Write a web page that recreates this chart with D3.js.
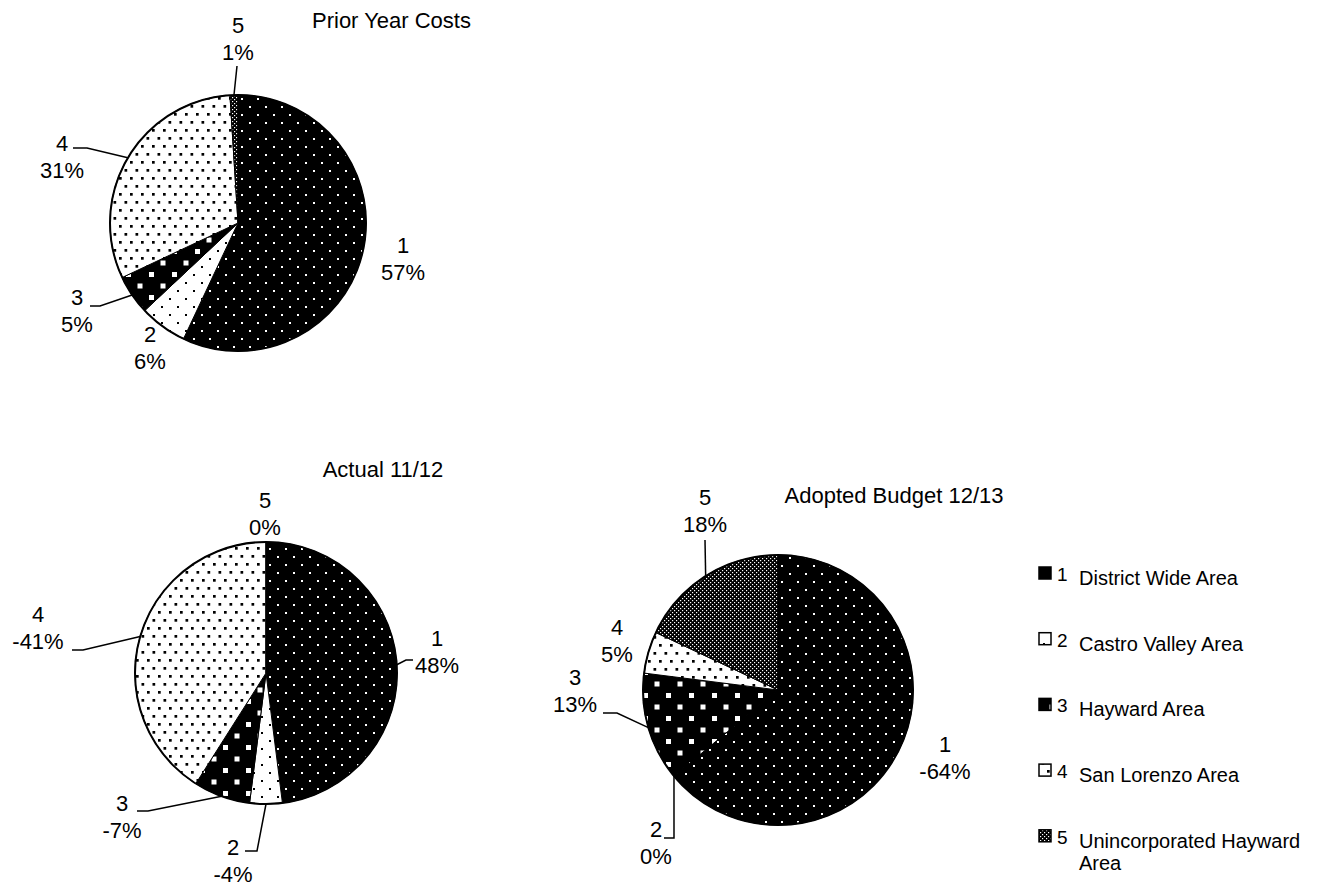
<!DOCTYPE html>
<html>
<head>
<meta charset="utf-8">
<script src="https://cdnjs.cloudflare.com/ajax/libs/d3/7.8.5/d3.min.js"></script>
<style>
    body { margin: 0; background: #fff; }
    text { font-family: "Liberation Sans", Arial, sans-serif; fill: #000; }
    .lead { fill: none; stroke: #000; stroke-width: 1.5; }
</style>
</head>
<body>
<svg id="chart"></svg>
<script>
// slice ids and legend names
var categories = ["1", "2", "3", "4", "5"];
var areaNames = ["District Wide Area", "Castro Valley Area", "Hayward Area", "San Lorenzo Area", "Unincorporated Hayward Area"];

// percent values per pie (negatives are drawn by size)
var priorYearCosts = [57, 6, 5, 31, 1];
var actual1112 = [48, -4, -7, -41, 0];
var adopted1213 = [-64, 0, 13, 5, 18];

var chartTitles = ["Prior Year Costs", "Actual 11/12", "Adopted Budget 12/13"];

var width = 1337, height = 888;

var svg = d3.select("#chart")
    .attr("width", width)
    .attr("height", height);

// fill patterns, one per slice
var defs = svg.append("defs");

function makePattern(id, w, h, bg, fg, dots, size) {
    var p = defs.append("pattern")
        .attr("id", id)
        .attr("patternUnits", "userSpaceOnUse")
        .attr("width", w)
        .attr("height", h);
    p.append("rect").attr("width", w).attr("height", h).attr("fill", bg);
    dots.forEach(function(d) {
        p.append("rect")
            .attr("x", d[0]).attr("y", d[1])
            .attr("width", size).attr("height", size)
            .attr("fill", fg);
    });
}

makePattern("pat0", 16, 16, "#000", "#fff", [[3, 3], [11, 11]], 2);
makePattern("pat1", 16, 16, "#fff", "#000", [[3, 3], [11, 11]], 2);
makePattern("pat2", 23, 23, "#000", "#fff", [[3, 3], [14.5, 14.5]], 5);
makePattern("pat3", 11, 16, "#fff", "#000", [[2, 2], [7.5, 10]], 2.7);
makePattern("pat4", 4, 4, "#000", "#fff", [[0, 0], [2, 2]], 1.2);

// layout of the three pies; label spots are [x, baseline] and leader
// points are the bent part of the line, the arc end is computed
var pies = [
    {
        title: chartTitles[0], values: priorYearCosts,
        cx: 238, cy: 223, r: 128,
        titleX: 312, titleY: 28, titleAnchor: "start",
        labels: [[403, 253], [150, 342], [77, 305], [62, 151], [238, 33]],
        leaders: [null, null, [[90, 306], [100, 306]], [[73, 148], [87, 148]], [[237, 66]]]
    },
    {
        title: chartTitles[1], values: actual1112,
        cx: 266, cy: 673, r: 131,
        titleX: 383, titleY: 477, titleAnchor: "middle",
        labels: [[437, 646], [233, 855], [122, 811], [38, 622], [265, 508]],
        leaders: [[[413, 660], [406, 660]], [[245, 851], [257, 851]], [[137, 811], [148, 811]], [[72, 650], [83, 650]], null]
    },
    {
        title: chartTitles[2], values: adopted1213,
        cx: 778, cy: 690, r: 135,
        titleX: 894, titleY: 503, titleAnchor: "middle",
        labels: [[945, 752], [656, 837], [575, 685], [617, 635], [705, 505]],
        leaders: [null, [[664, 838], [674, 838]], [[603, 713], [617, 713]], null, [[705, 540]]]
    }
];

var pie = d3.pie()
    .sort(null)
    .value(function(d) { return Math.abs(d); });

function fmtPct(v) { return v + "%"; }

pies.forEach(function(cfg) {
    var arcs = pie(cfg.values);

    var arc = d3.arc().innerRadius(0).outerRadius(cfg.r);
    var edge = d3.arc().innerRadius(cfg.r).outerRadius(cfg.r);

    svg.append("text")
        .attr("x", cfg.titleX)
        .attr("y", cfg.titleY)
        .attr("text-anchor", cfg.titleAnchor)
        .style("font-size", "22px")
        .text(cfg.title);

    var g = svg.append("g")
        .attr("transform", "translate(" + cfg.cx + "," + cfg.cy + ")");

    g.selectAll("path.slice")
        .data(arcs)
        .enter().append("path")
        .attr("class", "slice")
        .attr("d", arc)
        .attr("fill", function(d, i) { return "url(#pat" + i + ")"; })
        .attr("stroke", "#000")
        .attr("stroke-width", 1);

    // outer ring
    g.append("circle")
        .attr("r", cfg.r)
        .attr("fill", "none")
        .attr("stroke", "#000")
        .attr("stroke-width", 2);

    // leader lines
    arcs.forEach(function(d, i) {
        if (!cfg.leaders[i]) return;
        var c = edge.centroid(d);
        var pts = cfg.leaders[i].slice();
        pts.push([c[0] + cfg.cx, c[1] + cfg.cy]);
        svg.append("path")
            .attr("class", "lead")
            .attr("d", d3.line()(pts));
    });

    // data labels: category on top, percent below
    arcs.forEach(function(d, i) {
        var t = svg.append("text")
            .attr("text-anchor", "middle")
            .style("font-size", "22px");
        t.append("tspan")
            .attr("x", cfg.labels[i][0])
            .attr("y", cfg.labels[i][1])
            .text(categories[i]);
        t.append("tspan")
            .attr("x", cfg.labels[i][0])
            .attr("y", cfg.labels[i][1] + 27)
            .text(fmtPct(cfg.values[i]));
    });
});

// legend
var legend = svg.append("g").attr("class", "legend");
var legTop = 567, legStep = 65.7;

categories.forEach(function(c, i) {
    var y = legTop + i * legStep;
    legend.append("rect")
        .attr("x", 1039).attr("y", y)
        .attr("width", 12).attr("height", 12)
        .attr("fill", "url(#pat" + i + ")")
        .attr("stroke", "#000")
        .attr("stroke-width", 1.5);
    legend.append("text")
        .attr("x", 1057).attr("y", y + 14)
        .style("font-size", "19px")
        .text(c);
    var words = areaNames[i] == "Unincorporated Hayward Area"
        ? ["Unincorporated Hayward", "Area"] : [areaNames[i]];
    words.forEach(function(w, k) {
        legend.append("text")
            .attr("x", 1079).attr("y", y + 18 + k * 22)
            .style("font-size", "20px")
            .text(w);
    });
});
</script>
</body>
</html>
